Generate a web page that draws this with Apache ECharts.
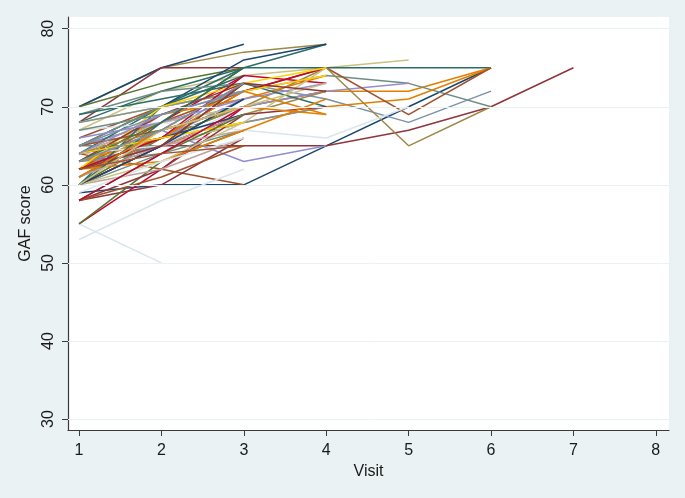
<!DOCTYPE html>
<html><head><meta charset="utf-8">
<script src="https://cdn.jsdelivr.net/npm/echarts@6/dist/echarts.min.js"></script>
<style>html,body{margin:0;padding:0;background:#eaf2f3}#c{width:685px;height:498px}</style>
</head><body><div id="c"></div>
<script>
const visitTicks = [1, 2, 3, 4, 5, 6, 7, 8];
const scoreTicks = [30, 40, 50, 60, 70, 80];
// GAF score per subject at visits 1..n
const subjectScores = [
  [59, 60, 60, 65, 70, 75],
  [64, 65, 65, 65, 67, 70, 75],
  [60, 66, 70, 72],
  [62, 67, 70, 72, 72, 75],
  [65, 68, 72, 74, 73, 70],
  [55, 62, 70],
  [63, 67, 63, 65],
  [67, 72, 74, 75, 76],
  [64, 62, 60],
  [62, 66, 73, 71, 68, 72],
  [68, 72, 75, 75, 75, 75],
  [70, 75, 77, 78],
  [63, 66, 69],
  [62, 68, 72, 75],
  [55, 50],
  [70, 75, 78],
  [68, 75, 75],
  [70, 73, 75],
  [62, 65, 68, 70, 71, 75],
  [60, 64, 67],
  [64, 68, 74, 73],
  [65, 68, 70, 72, 73],
  [64, 69, 71],
  [62, 68, 72, 75, 69, 75],
  [63, 65, 68, 70],
  [64, 70, 75, 78],
  [62, 66, 70, 75, 65, 70],
  [65, 67, 70],
  [65, 70, 72],
  [53, 58, 62],
  [65, 70, 76, 78],
  [58, 60, 66],
  [55, 63, 67],
  [62, 69, 71, 74],
  [69, 72, 73],
  [61, 66, 72, 75],
  [64, 66, 71, 73],
  [60, 65, 68, 75],
  [66, 70, 72],
  [63, 64, 70],
  [69, 71, 73, 70],
  [60, 65, 69, 72],
  [62, 65, 67],
  [68, 70, 72, 74],
  [67, 68, 67, 66, 70],
  [61, 67, 70],
  [58, 62, 69, 70],
  [60, 65, 73],
  [63, 66, 72, 69],
  [65, 65, 71],
  [60, 65, 69],
  [63, 69, 72],
  [64, 68, 70, 73],
  [65, 67, 73],
  [68, 70, 72],
  [60, 70, 74],
  [61, 66, 68],
  [60, 62, 66],
  [62, 70, 73, 75],
  [64, 65, 70],
  [64, 66, 69],
  [63, 69, 73, 72],
  [63, 68, 75],
  [62, 63, 67, 71],
  [65, 70],
  [62, 66, 74],
  [66, 68, 71],
  [60, 63, 68],
  [58, 61, 65],
  [65, 69, 72],
  [60, 68, 75],
  [64, 67, 70],
  [61, 65, 69],
  [64, 66, 68],
  [59, 63, 66],
  [60, 65, 71],
  [62, 65, 73],
  [58, 64, 69],
  [61, 67, 70, 69],
  [67, 69],
  [58, 64, 70],
  [64, 69],
  [60, 67, 70],
  [62, 64, 65],
  [63, 67, 73]
];
const palette = ['#1a476f','#90353b','#55752f','#e37e00','#6e8e84','#c10534','#938dd2','#cac27e','#a0522d','#7b92a8','#2d6d66','#9c8847','#bfa19c','#ffd200','#d9e6eb'];

const series = subjectScores.map((s, i) => ({
  type: 'line',
  data: s.map((v, j) => [visitTicks[j], v]),
  showSymbol: false,
  symbol: 'none',
  silent: true,
  animation: false,
  z: 3,
  lineStyle: { color: palette[i % palette.length], width: 1.5 }
}));
series.unshift({
  type: 'line', data: [], silent: true, animation: false, z: 1,
  markLine: {
    silent: true, symbol: 'none', animation: false, label: { show: false },
    lineStyle: { color: '#eaf2f3', width: 1, type: 'solid' },
    data: scoreTicks.map(v => ({ yAxis: v }))
  }
});

const chart = echarts.init(document.getElementById('c'), null, { renderer: 'canvas' });
chart.setOption({
  backgroundColor: '#eaf2f3',
  animation: false,
  grid: { left: 68, right: 16, top: 17, bottom: 68, show: true, backgroundColor: '#ffffff', borderWidth: 0 },
  xAxis: {
    type: 'value', min: 0.866, max: 8.16,
    name: 'Visit', nameLocation: 'middle', nameGap: 28,
    nameTextStyle: { fontFamily: 'Liberation Sans', fontSize: 16, color: '#1a1a1a' },
    axisLine: { show: true, onZero: false, lineStyle: { color: '#3a3a3a', width: 1.2 } },
    axisTick: { show: true, length: 6, customValues: visitTicks, lineStyle: { color: '#3a3a3a' } },
    axisLabel: { customValues: visitTicks, fontFamily: 'Liberation Sans', fontSize: 16, color: '#1a1a1a', margin: 13 },
    splitLine: { show: false }
  },
  yAxis: {
    type: 'value', min: 28.6, max: 81.5,
    name: 'GAF score', nameLocation: 'middle', nameGap: 27, nameRotate: 90,
    nameTextStyle: { fontFamily: 'Liberation Sans', fontSize: 16, color: '#1a1a1a' },
    axisLine: { show: true, onZero: false, lineStyle: { color: '#3a3a3a', width: 1.2 } },
    axisTick: { show: true, length: 6, customValues: scoreTicks, lineStyle: { color: '#3a3a3a' } },
    axisLabel: { customValues: scoreTicks, rotate: 90, fontFamily: 'Liberation Sans', fontSize: 16, color: '#1a1a1a', margin: 11 },
    splitLine: { show: false }
  },
  series: series
});
</script></body></html>
